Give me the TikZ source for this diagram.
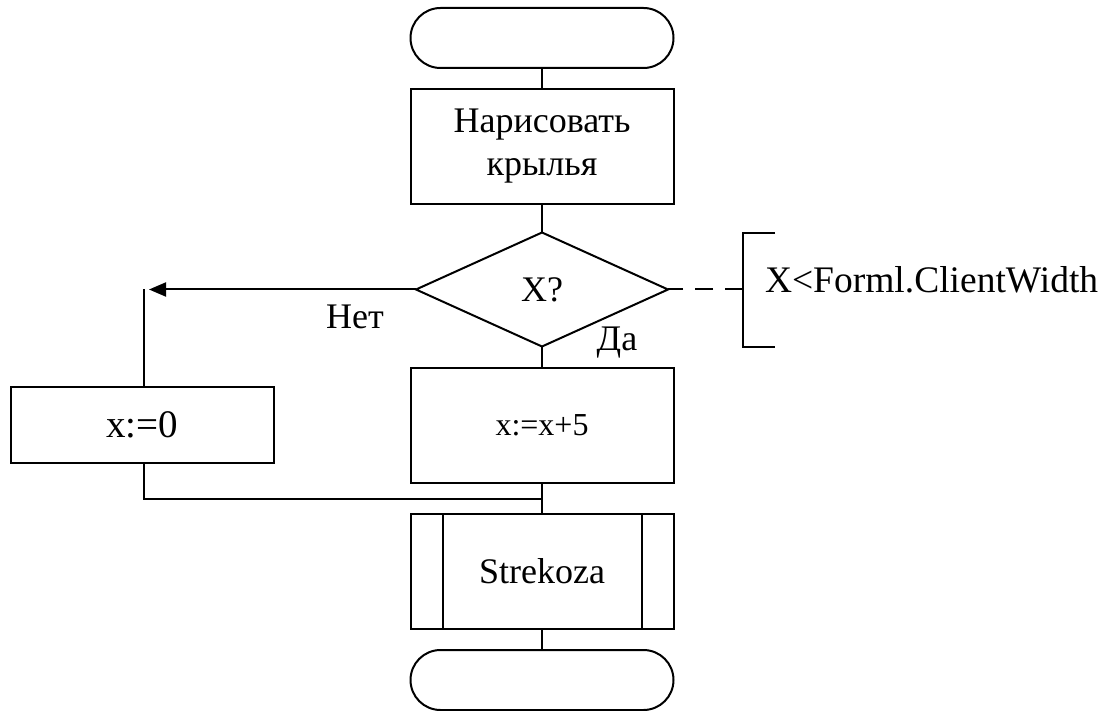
\documentclass[tikz,border=0pt]{standalone}
\usepackage{fontspec}
\setmainfont{Liberation Serif}
\usetikzlibrary{shapes.geometric,arrows.meta}
\begin{document}
\begin{tikzpicture}[x=1pt,y=-1pt,
  line width=2pt,
  every node/.style={font=\fontsize{36}{43}\selectfont, inner sep=0pt, outer sep=0pt},
  term/.style={draw, rounded corners=30pt, minimum width=263pt, minimum height=60pt},
  procbox/.style={draw, minimum width=263pt, minimum height=115pt, align=center},
  decbox/.style={draw, diamond, minimum width=252pt, minimum height=114pt},
  lbl/.style={font=\fontsize{36}{43}\selectfont}
]
\useasboundingbox (0,0) rectangle (1116,711);

\node[term] (start) at (542,38) {};
\node[procbox] (draw1) at (542,146.5) {Нарисовать\\крылья};
\node[decbox] (dec) at (542,289.5) {X?};
\node[procbox, font=\fontsize{32}{38}\selectfont] (inc) at (542,425.5) {x:=x+5};
\node[draw, minimum width=263pt, minimum height=76pt, font=\fontsize{39}{45}\selectfont] (zero) at (142,425) {x:=0};
\node[procbox] (strek) at (542,571.5) {Strekoza};
\node[term] (stop) at (542,680) {};

% inner lines of the predefined process
\draw ([xshift=32pt]strek.north west) -- ([xshift=32pt]strek.south west);
\draw ([xshift=-32pt]strek.north east) -- ([xshift=-32pt]strek.south east);

% main flow
\draw (start.south) -- (draw1.north);
\draw (draw1.south) -- (dec.north);
\draw (dec.south) -- (inc.north);
\draw (inc.south) -- (strek.north);
\draw (strek.south) -- (stop.north);

% No branch
\coordinate (ahead) at (149,289.5);
\coordinate (ctop) at (144,289);
\coordinate (cbot) at (144,499);
\draw[-{Triangle[length=17pt,width=14pt]}] (dec.west) -- (ahead);
\draw (zero.north -| ctop) -- (ctop);
\draw (zero.south -| cbot) -- (cbot) -- (cbot -| inc.south);

% labels
\node[lbl] (net) at (355,317) {Нет};
\node[lbl] (da) at (617,343) {Да};

% comment bracket
\coordinate (bmid) at (743,289.5);
\coordinate (btop) at (743,233);
\coordinate (bbot) at (743,347);
\draw[dash pattern=on 18pt off 12pt] (bmid) -- (dec.east);
\draw ([xshift=32pt]btop) -- (btop) -- (bbot) -- ([xshift=32pt]bbot);
\node[font=\fontsize{37.5}{45}\selectfont, anchor=base west] (note) at (765,293) {X<Forml.ClientWidth};
\end{tikzpicture}
\end{document}
